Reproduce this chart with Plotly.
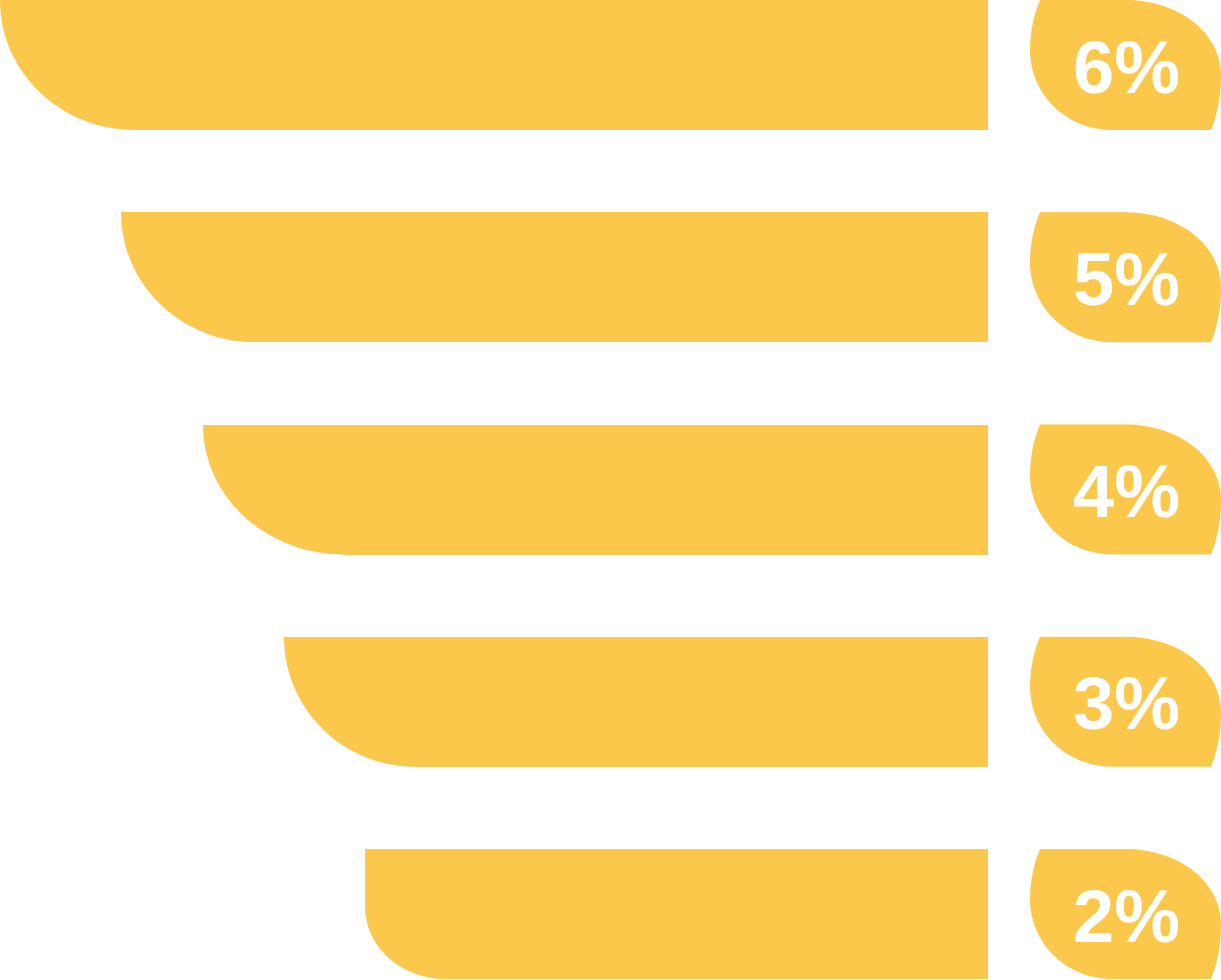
import plotly.graph_objects as go

# ---- data ----
categories = ["A", "B", "C", "D", "E"]
percent_values = [6, 5, 4, 3, 2]
percent_labels = ["6%", "5%", "4%", "3%", "2%"]
bar_lengths = [988, 867, 785, 704, 623]   # bar extent, in chart units (0..1221 axis)

# ---- styles / layout ----
W, H = 1221, 980
BAR_END = 988
COLOR = "#FCC84B"
PITCH = 212.25          # px between row centers
ROW0 = 65.0             # px of first row center
BAR_PX = 130.0          # bar thickness in px
corner_rx = [135, 134, 140, 131, 80]        # px
corner_ry_frac = [1.0, 1.0, 1.0, 1.0, 0.56]


def yu(px):
    return (px - ROW0) / PITCH


bw = BAR_PX / PITCH
idx = list(range(len(categories)))

fig = go.Figure()
fig.add_trace(go.Bar(
    orientation="h",
    y=idx,
    x=bar_lengths,
    base=[BAR_END - L for L in bar_lengths],
    width=bw,
    marker=dict(color=COLOR, line=dict(width=0)),
    hoverinfo="skip",
    showlegend=False,
))

shapes = []
K = 0.5523
for i, L in enumerate(bar_lengths):
    x0 = BAR_END - L
    yb = i + bw / 2
    rx = corner_rx[i]
    ry = bw * corner_ry_frac[i]
    # white mask cutting the bottom-left corner into an arc
    path = (f"M {x0 - 2},{yb + 0.01} L {x0 - 2},{yb - ry} L {x0},{yb - ry} "
            f"C {x0},{yb - ry + K * ry} {x0 + rx - K * rx},{yb} {x0 + rx},{yb} "
            f"L {x0 + rx + 1},{yb + 0.01} Z")
    shapes.append(dict(type="path", xref="x", yref="y", path=path,
                       fillcolor="white", line=dict(width=0), layer="above"))

    # leaf-shaped badge
    top = i - bw / 2
    def Y(dpx):
        return top + dpx / PITCH
    bpath = (f"M 1040,{Y(0)} L 1125,{Y(0)} "
             f"C 1178,{Y(0)} 1221,{Y(32)} 1221,{Y(76)} "
             f"C 1221,{Y(100)} 1216,{Y(118)} 1211,{Y(130)} "
             f"L 1112,{Y(130)} "
             f"C 1066,{Y(130)} 1030,{Y(94)} 1030,{Y(50)} "
             f"C 1030,{Y(32)} 1034,{Y(14)} 1040,{Y(0)} Z")
    shapes.append(dict(type="path", xref="x", yref="y", path=bpath,
                       fillcolor=COLOR, line=dict(width=0), layer="below"))

annotations = [
    dict(x=1126, y=i, xref="x", yref="y", text=lab, showarrow=False,
         xanchor="center", yanchor="middle", yshift=-2,
         font=dict(family="Liberation Sans, Arial, sans-serif", size=74,
                   color="white", weight="bold"))
    for i, lab in zip(idx, percent_labels)
]

fig.update_layout(
    width=W, height=H,
    margin=dict(l=0, r=0, t=0, b=0),
    paper_bgcolor="white", plot_bgcolor="white",
    shapes=shapes,
    annotations=annotations,
    bargap=0,
    xaxis=dict(range=[0, W], visible=False, fixedrange=True),
    yaxis=dict(range=[yu(H), yu(0)], visible=False, fixedrange=True),
)

fig.write_html("out.html", config={"displayModeBar": False},
               post_script="document.body.style.margin='0px';document.body.style.overflow='hidden';")
